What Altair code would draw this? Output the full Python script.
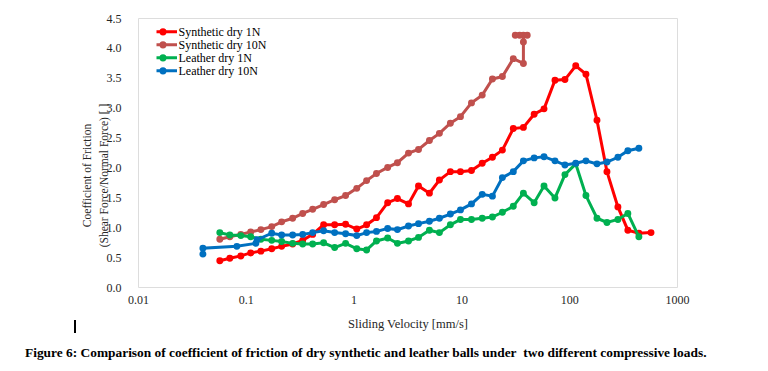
import altair as alt
import pandas as pd

series_names = ["Synthetic dry 1N", "Synthetic dry 10N", "Leather dry 1N", "Leather dry 10N"]
series_colors = ["#FF0000", "#C0504D", "#00B050", "#0070C0"]

# Sliding velocity [mm/s] and coefficient of friction
syn1_v = [0.0574, 0.0711, 0.0899, 0.111, 0.138, 0.174, 0.215, 0.272, 0.337, 0.417,
          0.527, 0.667, 0.843, 1.07, 1.32, 1.63, 2.07, 2.55, 3.23, 4.00,
          5.05, 6.25, 7.9, 9.8, 12.4, 15.6, 19.4, 24.0, 30.3, 37.6,
          47.3, 58.4, 73.8, 91.3, 115, 143, 181, 224, 283, 350, 443, 574]
syn1_mu = [0.44, 0.48, 0.52, 0.57, 0.60, 0.64, 0.68, 0.72, 0.78, 0.88,
           1.04, 1.04, 1.05, 0.97, 1.04, 1.16, 1.41, 1.48, 1.39, 1.69,
           1.57, 1.79, 1.93, 1.93, 1.95, 2.07, 2.17, 2.29, 2.65, 2.67,
           2.89, 2.98, 3.46, 3.47, 3.70, 3.56, 2.79, 1.93, 1.34, 0.95, 0.90, 0.91]

syn10_v = [0.0574, 0.0711, 0.0899, 0.111, 0.138, 0.174, 0.215, 0.272, 0.337, 0.417,
           0.527, 0.667, 0.843, 1.07, 1.32, 1.63, 2.07, 2.55, 3.23, 4.00,
           5.05, 6.25, 7.9, 9.8, 12.4, 15.6, 19.4, 24.0, 30.3, 37.6,
           37.6, 37.6, 40.8, 34.7, 31.6]
syn10_mu = [0.80, 0.84, 0.88, 0.92, 0.96, 1.01, 1.09, 1.15, 1.23, 1.30,
            1.38, 1.46, 1.53, 1.65, 1.78, 1.90, 2.00, 2.08, 2.24, 2.30,
            2.45, 2.57, 2.74, 2.85, 3.08, 3.21, 3.48, 3.52, 3.82, 3.74,
            4.10, 4.21, 4.21, 4.21, 4.21]

lea1_v = [0.0574, 0.0711, 0.0899, 0.111, 0.138, 0.174, 0.215, 0.272, 0.337, 0.417,
          0.527, 0.667, 0.843, 1.07, 1.32, 1.63, 2.07, 2.55, 3.23, 4.00,
          5.05, 6.25, 7.9, 9.8, 12.4, 15.6, 19.4, 24.0, 30.3, 37.6,
          47.3, 58.4, 73.8, 91.3, 115, 143, 181, 224, 283, 350, 443]
lea1_mu = [0.91, 0.87, 0.86, 0.84, 0.80, 0.78, 0.76, 0.73, 0.72, 0.72,
           0.74, 0.66, 0.73, 0.64, 0.62, 0.77, 0.82, 0.73, 0.77, 0.83,
           0.95, 0.91, 1.04, 1.13, 1.13, 1.15, 1.17, 1.25, 1.35, 1.57,
           1.41, 1.69, 1.49, 1.88, 2.06, 1.53, 1.15, 1.08, 1.13, 1.23, 0.84]

lea10_v = [0.040, 0.040, 0.0826, 0.124, 0.127, 0.174, 0.215, 0.272, 0.337, 0.417,
           0.527, 0.667, 0.843, 1.07, 1.32, 1.63, 2.07, 2.55, 3.23, 4.00,
           5.05, 6.25, 7.9, 9.8, 12.4, 15.6, 19.4, 24.0, 30.3, 37.6,
           47.3, 58.4, 73.8, 91.3, 115, 143, 181, 224, 283, 350, 443]
lea10_mu = [0.55, 0.65, 0.68, 0.73, 0.79, 0.90, 0.87, 0.87, 0.88, 0.91,
            0.94, 0.91, 0.89, 0.86, 0.91, 0.93, 0.98, 0.96, 1.02, 1.06,
            1.10, 1.15, 1.22, 1.29, 1.39, 1.55, 1.52, 1.83, 1.93, 2.11,
            2.16, 2.18, 2.11, 2.04, 2.07, 2.11, 2.06, 2.09, 2.17, 2.28, 2.32]

x_ticks = [0.01, 0.1, 1, 10, 100, 1000]
y_ticks = [0.0, 0.5, 1.0, 1.5, 2.0, 2.5, 3.0, 3.5, 4.0, 4.5]

caption = ("Figure 6: Comparison of coefficient of friction of dry synthetic and leather balls "
           "under\u00a0 two different compressive loads.")

rows = []
for name, vs, mus in zip(series_names,
                         [syn1_v, syn10_v, lea1_v, lea10_v],
                         [syn1_mu, syn10_mu, lea1_mu, lea10_mu]):
    for i, (v, m) in enumerate(zip(vs, mus)):
        rows.append({"series": name, "v": v, "mu": m, "idx": i})
df = pd.DataFrame(rows)

FONT = "Liberation Serif"
# legend glyph: a short line with a dot in its middle (scale: 1 unit = 5 px)
LEGEND_PATH = ("M-2.8,0L2.8,0"
               "M-0.42,0A0.42,0.42,0,1,0,0.42,0A0.42,0.42,0,1,0,-0.42,0"
               "M-0.14,0A0.14,0.14,0,1,0,0.14,0A0.14,0.14,0,1,0,-0.14,0")

color_scale = alt.Scale(domain=series_names, range=series_colors)
legend = alt.Legend(title=None, orient="none", legendX=18.5, legendY=7.5,
                    symbolType=LEGEND_PATH, symbolSize=100, symbolStrokeWidth=3,
                    labelOffset=9, labelFont=FONT, labelFontSize=12,
                    labelColor="black", rowPadding=0, clipHeight=12.7, padding=0)

x_enc = alt.X("v:Q",
              scale=alt.Scale(type="log", domain=[0.01, 1000], nice=False),
              axis=alt.Axis(values=x_ticks, format="~g", title="Sliding Velocity [mm/s]",
                            grid=False, ticks=False, tickSize=0, domain=False,
                            labelPadding=7, labelFlush=False, labelOverlap=False,
                            labelFont=FONT, labelFontSize=12, labelColor="#262626",
                            titleFont=FONT, titleFontSize=12.5, titleFontWeight="normal",
                            titleColor="#262626", titleY=36, titleBaseline="middle"))
y_enc = alt.Y("mu:Q",
              scale=alt.Scale(domain=[0, 4.5], nice=False),
              axis=alt.Axis(values=y_ticks, format=".1f",
                            title=["Coefficient of Friction", "(Shear Force/Normal Force) [ ]"],
                            grid=False, ticks=False, tickSize=0, domain=False,
                            labelPadding=17, labelFont=FONT, labelFontSize=12,
                            labelColor="#262626",
                            titleFont=FONT, titleFontSize=11.5, titleFontWeight="normal",
                            titleColor="#262626", titleAngle=270, titleX=-51, titleY=157,
                            titleBaseline="middle", titleAlign="center", titleLineHeight=17))

layers = []
for name in series_names:
    layers.append(
        alt.Chart(df)
        .transform_filter(alt.datum.series == name)
        .mark_line(strokeWidth=3, point=alt.OverlayMarkDef(filled=True, size=48, opacity=1))
        .encode(x=x_enc, y=y_enc,
                color=alt.Color("series:N", scale=color_scale, legend=legend),
                order=alt.Order("idx:Q"))
    )

cursor = (alt.Chart(pd.DataFrame({"k": [0]}))
          .mark_rule(color="black", strokeWidth=2)
          .encode(x=alt.value(-63), y=alt.value(302), y2=alt.value(315)))

chart = (alt.layer(*layers, cursor)
         .properties(width=539, height=269, autosize="none",
                     padding={"left": 130, "top": 10, "right": 75, "bottom": 74},
                     title=alt.TitleParams(caption, orient="bottom", anchor="start",
                                           frame="group", dx=-113, offset=12,
                                           font=FONT, fontSize=13.4, fontWeight="bold",
                                           color="black"))
         .configure_view(stroke="black", strokeWidth=1.2)
         .configure_axis(labelFont=FONT, titleFont=FONT)
         .configure(font=FONT))

chart.save("out.html", embed_options={"renderer": "svg", "actions": False})
